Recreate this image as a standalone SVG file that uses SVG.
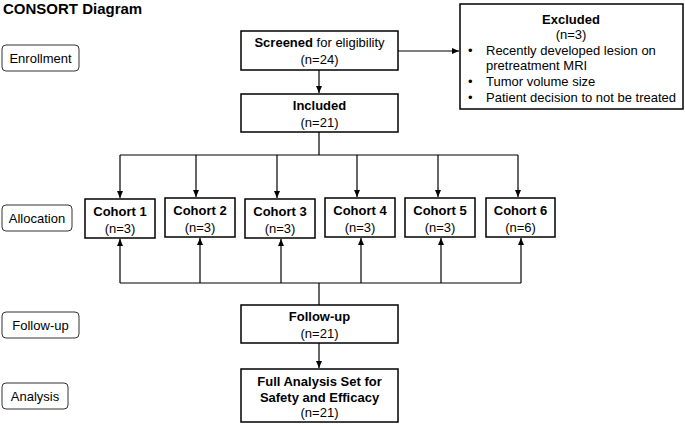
<svg xmlns="http://www.w3.org/2000/svg" width="685" height="425" viewBox="0 0 685 425">
<style>
text{font-family:"Liberation Sans",Arial,sans-serif;font-size:13px;fill:#000}
.b{font-weight:bold}
.box{fill:#fff;stroke:#000;stroke-width:1.5}
.lab{fill:#fff;stroke:#333;stroke-width:1}
.c{fill:none;stroke:#000;stroke-width:1.2}
</style>
<defs><marker id="a" markerWidth="8" markerHeight="8" refX="7" refY="4" orient="auto" markerUnits="userSpaceOnUse"><path d="M0,1 L7,4 L0,7z" fill="#000"/></marker></defs>
<rect width="685" height="425" fill="#fff"/>
<text x="3" y="14" class="b" style="font-size:15px">CONSORT Diagram</text>
<g id="enrollment"><rect class="lab" x="2" y="45" width="77" height="26" rx="4"/><text x="40.5" y="62.5" text-anchor="middle">Enrollment</text></g>
<g id="allocation"><rect class="lab" x="2" y="205" width="70" height="26" rx="4"/><text x="37" y="222.5" text-anchor="middle">Allocation</text></g>
<g id="followuplab"><rect class="lab" x="2" y="312" width="77" height="26" rx="4"/><text x="40.5" y="329.5" text-anchor="middle">Follow-up</text></g>
<g id="analysislab"><rect class="lab" x="2" y="383" width="66" height="26" rx="4"/><text x="35" y="400.5" text-anchor="middle">Analysis</text></g>
<g id="screened"><rect class="box" x="241" y="31" width="157" height="39"/><text x="319.5" y="47" text-anchor="middle"><tspan class="b">Screened</tspan> for eligibility</text><text x="319.5" y="64" text-anchor="middle">(n=24)</text></g>
<g id="excluded"><rect class="box" x="460" y="4" width="223" height="105"/><text x="571" y="24" text-anchor="middle" class="b">Excluded</text><text x="571" y="39" text-anchor="middle">(n=3)</text>
<text x="468" y="55">•</text><text x="486" y="55">Recently developed lesion on</text><text x="486" y="70">pretreatment MRI</text>
<text x="468" y="86">•</text><text x="486" y="86">Tumor volume size</text>
<text x="468" y="102">•</text><text x="486" y="102">Patient decision to not be treated</text></g>
<g id="included"><rect class="box" x="241" y="94" width="157" height="38"/><text x="319.5" y="110" text-anchor="middle" class="b">Included</text><text x="319.5" y="127" text-anchor="middle">(n=21)</text></g>
<g id="cohort1"><rect class="box" x="85" y="199" width="70" height="39"/><text x="120" y="216" text-anchor="middle" class="b">Cohort 1</text><text x="120" y="233" text-anchor="middle">(n=3)</text></g>
<g id="cohort2"><rect class="box" x="165" y="198" width="70" height="39"/><text x="200" y="215" text-anchor="middle" class="b">Cohort 2</text><text x="200" y="232" text-anchor="middle">(n=3)</text></g>
<g id="cohort3"><rect class="box" x="245" y="199" width="70" height="39"/><text x="280" y="216" text-anchor="middle" class="b">Cohort 3</text><text x="280" y="233" text-anchor="middle">(n=3)</text></g>
<g id="cohort4"><rect class="box" x="325" y="198" width="70" height="39"/><text x="360" y="215" text-anchor="middle" class="b">Cohort 4</text><text x="360" y="232" text-anchor="middle">(n=3)</text></g>
<g id="cohort5"><rect class="box" x="405" y="198" width="70" height="39"/><text x="440" y="215" text-anchor="middle" class="b">Cohort 5</text><text x="440" y="232" text-anchor="middle">(n=3)</text></g>
<g id="cohort6"><rect class="box" x="486" y="198" width="69" height="39"/><text x="520.5" y="215" text-anchor="middle" class="b">Cohort 6</text><text x="520.5" y="232" text-anchor="middle">(n=6)</text></g>
<g id="followup"><rect class="box" x="241" y="305" width="157" height="38"/><text x="319.5" y="321" text-anchor="middle" class="b">Follow-up</text><text x="319.5" y="338" text-anchor="middle">(n=21)</text></g>
<g id="fas"><rect class="box" x="241" y="369" width="157" height="53"/><text x="319.5" y="386" text-anchor="middle" class="b">Full Analysis Set for</text><text x="319.5" y="402" text-anchor="middle" class="b">Safety and Efficacy</text><text x="319.5" y="417" text-anchor="middle">(n=21)</text></g>
<g id="connectors">
<path class="c" d="M398,51H459" marker-end="url(#a)"/>
<path class="c" d="M319,70V93" marker-end="url(#a)"/>
<path class="c" d="M319,132V155M120,155H518"/>
<path class="c" d="M120,155V198" marker-end="url(#a)"/>
<path class="c" d="M196,155V197" marker-end="url(#a)"/>
<path class="c" d="M277,155V198" marker-end="url(#a)"/>
<path class="c" d="M357,155V197" marker-end="url(#a)"/>
<path class="c" d="M438,155V197" marker-end="url(#a)"/>
<path class="c" d="M518,155V197" marker-end="url(#a)"/>
<path class="c" d="M120,283H521M319,283V305"/>
<path class="c" d="M120,283V239" marker-end="url(#a)"/>
<path class="c" d="M200,283V238" marker-end="url(#a)"/>
<path class="c" d="M281,283V239" marker-end="url(#a)"/>
<path class="c" d="M361,283V238" marker-end="url(#a)"/>
<path class="c" d="M441,283V238" marker-end="url(#a)"/>
<path class="c" d="M521,283V238" marker-end="url(#a)"/>
<path class="c" d="M319,343V368" marker-end="url(#a)"/>
</g>
</svg>
